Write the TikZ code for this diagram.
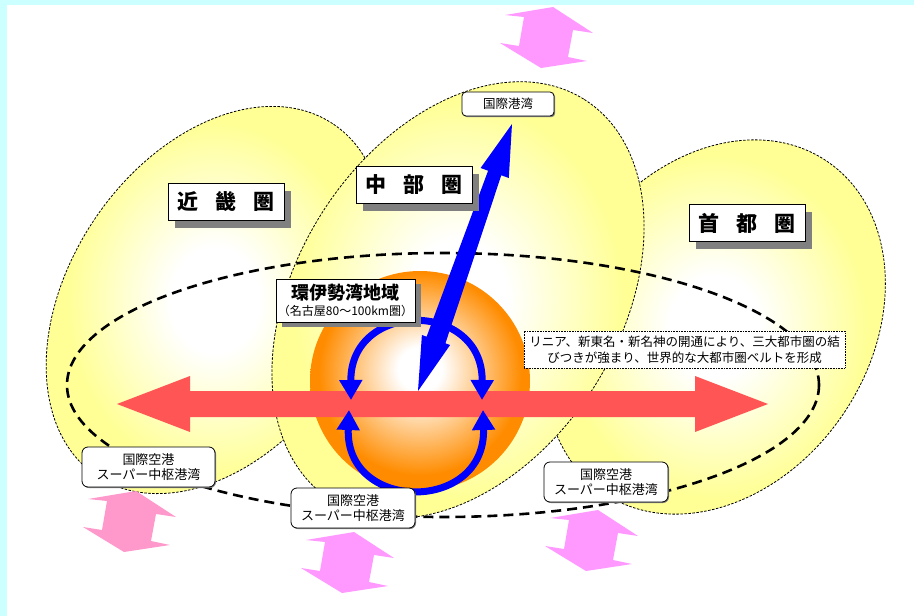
\documentclass[tikz,border=0pt]{standalone}
\usepackage{fontspec}
\setmainfont{Noto Sans CJK JP}
\usepackage{tikz}
\usetikzlibrary{arrows.meta}
\usetikzlibrary{shadows}

\definecolor{bgcyan}{RGB}{204,255,255}
\definecolor{regionyellow}{RGB}{255,255,150}
\definecolor{ballorange}{RGB}{255,140,0}
\definecolor{beltred}{RGB}{255,85,85}
\definecolor{gateblue}{RGB}{0,0,255}
\definecolor{portpink}{RGB}{255,153,255}
\definecolor{portrose}{RGB}{255,153,204}
\definecolor{shadowgray}{RGB}{128,128,128}
\pgfdeclareradialshading{yellowglow}{\pgfpoint{0bp}{0bp}}{color(0bp)=(white); color(6bp)=(white); color(20bp)=(regionyellow); color(50bp)=(regionyellow)}
\pgfdeclareradialshading{orangeglow}{\pgfpoint{0bp}{3bp}}{color(0bp)=(white); color(5bp)=(white); color(23bp)=(ballorange); color(50bp)=(ballorange)}

\begin{document}
\begin{tikzpicture}[x=1pt,y=-1pt,>/.tip={Triangle[length=20pt,width=22pt]},
	zone/.style={shade,shading=yellowglow,draw,line width=0.8pt,dash pattern=on 2.5pt off 1.5pt},
	region/.style={draw,fill=white,line width=0.8pt,minimum width=116pt,minimum height=37pt,inner sep=0pt,font=\fontsize{21}{21}\selectfont\bfseries,general shadow={fill=shadowgray,shadow xshift=7pt,shadow yshift=-7pt}},
	port/.style={draw,fill=white,line width=0.8pt,rounded corners=6pt,align=center,minimum width=124pt,minimum height=40pt,inner sep=0pt,font=\fontsize{13}{15}\selectfont,general shadow={fill=shadowgray,shadow xshift=1pt,shadow yshift=-1pt}},
	loopline/.style={draw=gateblue,line width=7pt,<->}]
	\useasboundingbox (0,0) rectangle (914,616);
	\fill[bgcyan] (0,0) rectangle (914,616);
	\fill[white] (7,5) rectangle (914,616);

	\path[zone,rotate around={56:(215,300)}] (215,300) ellipse [x radius=212,y radius=145];
	\path[zone,rotate around={56:(715,327)}] (715,327) ellipse [x radius=200,y radius=155];
	\path[zone,rotate around={57.8:(458,300)}] (458,300) ellipse [x radius=237,y radius=161.5];

	\path[shade,shading=orangeglow] (420,381) circle [radius=110];
	\draw[line width=2.6pt,dash pattern=on 10pt off 6pt] (443,385) ellipse [x radius=376,y radius=132];

	\fill[beltred] (117,404) -- (190,376) -- (190,391) -- (695,391) -- (695,376) -- (768,404) -- (695,432) -- (695,417) -- (190,417) -- (190,432) -- cycle;

	\path[loopline] (351,400) .. controls (350,300) and (483,300) .. (482,400);
	\path[loopline] (349,410) .. controls (345,513) and (486,513) .. (483,410);

	\fill[gateblue] (512,124) -- (508.8,178) -- (501.3,175.3) -- (445.4,343.3) -- (450.1,345) -- (418,391) -- (421.9,335) -- (426.6,336.7) -- (488.1,170.7) -- (480.6,168) -- cycle;

	\foreach \px/\py/\pc in {553/7/portpink,136/491/portrose,354/532/portpink,598/510/portpink}
		\fill[\pc,shift={(\px,\py)}] (0,0) -- (40,26) -- (20,23) -- (15,50) -- (34,54) -- (-12,61) -- (-53,36) -- (-34,39) -- (-29,10) -- (-48,8) -- cycle;

	\node (kinki) [region] at (226,202) {近\hspace{0.8em}畿\hspace{0.8em}圏};
	\node (chubu) [region] at (414,185) {中\hspace{0.8em}部\hspace{0.8em}圏};
	\node (shuto) [region] at (747,223) {首\hspace{0.8em}都\hspace{0.8em}圏};

	\node (isewan) [draw,fill=white,line width=0.8pt,align=center,minimum width=139pt,minimum height=43pt,inner sep=0pt,general shadow={fill=shadowgray,shadow xshift=6pt,shadow yshift=-5pt}] at (345.5,300.5)
		{{\fontsize{18}{20}\selectfont\bfseries 環伊勢湾地域}\\[3pt]{\fontsize{12}{13}\selectfont （名古屋80～100km圏）}};

	\node (belt) [draw,fill=white,line width=0.6pt,dash pattern=on 0.8pt off 0.8pt,align=center,minimum width=321pt,minimum height=37pt,inner sep=0pt,font=\fontsize{12.5}{16}\selectfont] at (684.5,349.5)
		{リニア、新東名・新名神の開通により、三大都市圏の結\\びつきが強まり、世界的な大都市圏ベルトを形成};

	\node (harbour) [draw,fill=white,line width=0.8pt,rounded corners=4pt,minimum width=92pt,minimum height=24pt,inner sep=0pt,font=\fontsize{12.5}{14}\selectfont,general shadow={fill=shadowgray,shadow xshift=1.2pt,shadow yshift=-1.2pt}] at (508,104) {国際港湾};

	\node (westport) [port,minimum width=133pt] at (148.5,467) {国際空港\\スーパー中枢港湾};
	\node (midport) [port] at (353,508) {国際空港\\スーパー中枢港湾};
	\node (eastport) [port] at (606,482) {国際空港\\スーパー中枢港湾};
\end{tikzpicture}
\end{document}
